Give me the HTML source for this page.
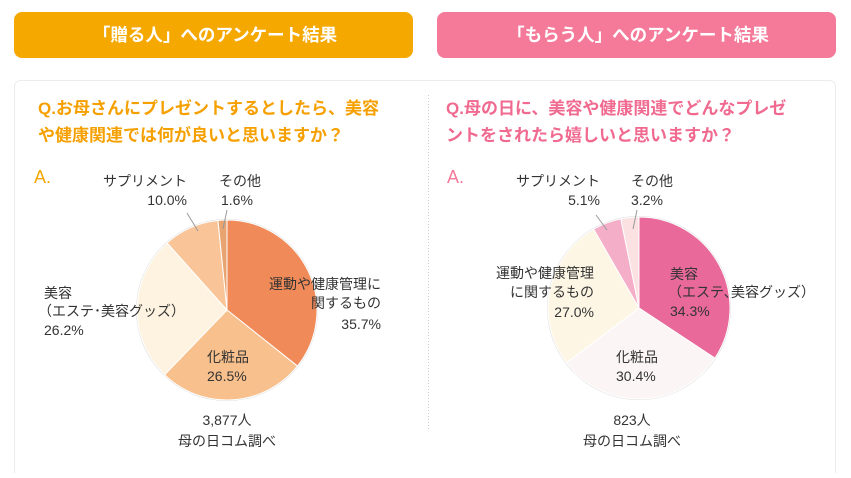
<!DOCTYPE html>
<html><head><meta charset="utf-8"><style>
body{margin:0;background:#fff;width:851px;height:473px;overflow:hidden;font-family:"Liberation Sans","Noto Sans CJK JP",sans-serif}
svg text{font-family:"Liberation Sans","Noto Sans CJK JP",sans-serif}
</style></head><body>
<svg id="s" width="851" height="473" viewBox="0 0 851 473">
<rect x="14" y="12" width="399" height="46" rx="8" fill="#f5a800"/>
<rect x="437" y="12" width="399" height="46" rx="8" fill="#f57a9a"/>
<text x="215" y="41" text-anchor="middle" font-size="17.5" font-weight="bold" fill="#fff">「贈る人」へのアンケート結果</text>
<text x="638" y="41" text-anchor="middle" font-size="17.5" font-weight="bold" fill="#fff">「もらう人」へのアンケート結果</text>
<rect x="14.5" y="80.5" width="821" height="400" rx="6" fill="#fff" stroke="#ececec"/>
<line x1="428.5" y1="95" x2="428.5" y2="430" stroke="#ccc" stroke-dasharray="1,2"/>
<text x="38" y="114" font-size="17" font-weight="bold" fill="#f5a000">Q.お母さんにプレゼントするとしたら、美容</text>
<text x="38" y="141" font-size="17" font-weight="bold" fill="#f5a000">や健康関連では何が良いと思いますか？</text>
<text x="446" y="114" font-size="17" font-weight="bold" fill="#f06a90">Q.母の日に、美容や健康関連でどんなプレゼ</text>
<text x="446" y="141" font-size="17" font-weight="bold" fill="#f06a90">ントをされたら嬉しいと思いますか？</text>
<text x="34" y="183" font-size="18" fill="#f5a800">A.</text>
<text x="447" y="183" font-size="18" fill="#f57a9a">A.</text>
<g id="p1"></g><g id="p2"></g>
<g font-size="14" fill="#333">
<text x="187" y="186" text-anchor="end">サプリメント</text><text x="187" y="205" text-anchor="end">10.0%</text>
<text x="219" y="186">その他</text><text x="221" y="205">1.6%</text>
<line x1="187" y1="213" x2="198" y2="231" stroke="#999"/><line x1="227" y1="210" x2="223" y2="229" stroke="#999"/>
<text x="381" y="289" text-anchor="end">運動や健康管理に</text><text x="381" y="308" text-anchor="end">関するもの</text><text x="381" y="329" text-anchor="end">35.7%</text>
<text x="207" y="362">化粧品</text><text x="207" y="381">26.5%</text>
<text x="44" y="298">美容</text><text x="38" y="316">（エステ･美容グッズ）</text><text x="44" y="335">26.2%</text>
<text x="227" y="425" text-anchor="middle">3,877人</text><text x="227" y="446" text-anchor="middle">母の日コム調べ</text>
<text x="600" y="186" text-anchor="end">サプリメント</text><text x="600" y="205" text-anchor="end">5.1%</text>
<text x="631" y="186">その他</text><text x="631" y="205">3.2%</text>
<line x1="596" y1="215" x2="607" y2="230" stroke="#999"/><line x1="637" y1="210" x2="633" y2="229" stroke="#999"/>
<text x="594" y="278" text-anchor="end">運動や健康管理</text><text x="594" y="297" text-anchor="end">に関するもの</text><text x="594" y="317" text-anchor="end">27.0%</text>
<text x="670" y="279">美容</text><text x="668" y="297">（エステ､美容グッズ）</text><text x="670" y="316">34.3%</text>
<text x="616" y="362">化粧品</text><text x="616" y="381">30.4%</text>
<text x="632" y="425" text-anchor="middle">823人</text><text x="632" y="446" text-anchor="middle">母の日コム調べ</text>
</g>
</svg>
<script>
function pie(id,cx,cy,r,vals,cols){var g=document.getElementById(id),a=0,h='';
for(var i=0;i<vals.length;i++){var b=a+vals[i]/100*2*Math.PI;
var x1=cx+r*Math.sin(a),y1=cy-r*Math.cos(a),x2=cx+r*Math.sin(b),y2=cy-r*Math.cos(b);
h+='<path d="M'+cx+','+cy+' L'+x1+','+y1+' A'+r+','+r+' 0 '+(b-a>Math.PI?1:0)+' 1 '+x2+','+y2+' Z" fill="'+cols[i]+'" stroke="#fff" stroke-width="1"/>';a=b;}
h='<circle cx="'+cx+'" cy="'+cy+'" r="'+(r+1)+'" fill="#ddd"/>'+h;
g.innerHTML=h;}
pie('p1',227,310,90,[35.7,26.5,26.2,10.0,1.6],['#f08a58','#f8c08c','#fdf3e0','#f8c498','#e8a470']);
pie('p2',639,308,91,[34.3,30.4,27.0,5.1,3.2],['#e8699a','#fcf5f5','#fdf6e4','#f4aec8','#fbe1e1']);
</script>
</body></html>
